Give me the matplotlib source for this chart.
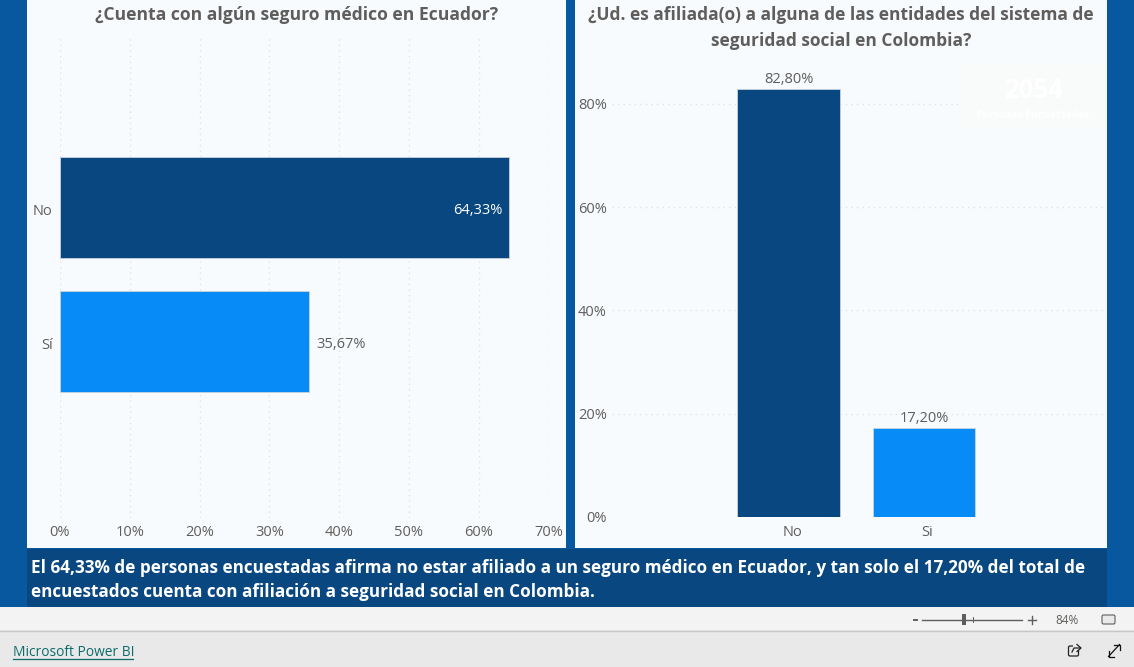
#!/usr/bin/env python3

import matplotlib
matplotlib.use('Agg')
import matplotlib.pyplot as plt
from matplotlib.patches import Rectangle, FancyBboxPatch
from matplotlib.transforms import ScaledTranslation

W = 1134
H = 667

ecuador_cats = ['No', 'Sí']
ecuador_vals = [64.33, 35.67]
ecuador_labels = ['64,33%', '35,67%']
ecuador_ticks = [0, 10, 20, 30, 40, 50, 60, 70]

colombia_cats = ['No', 'Si']
colombia_vals = [82.80, 17.20]
colombia_labels = ['82,80%', '17,20%']
colombia_ticks = [0, 20, 40, 60, 80]

bar_colors = ['#094780', '#078bf7']
grey = '#605e5c'
panel = '#f7fbfe'

plt.rcParams['font.family'] = ['Open Sans', 'DejaVu Sans']


def axes_px(fig, x0, y0, x1, y1):
    # pixel box, y measured from the top of the image
    return fig.add_axes([x0 / W, 1 - y1 / H, (x1 - x0) / W, (y1 - y0) / H])


def box(bg, x0, y0, x1, y1, color, **kw):
    bg.add_patch(Rectangle((x0, y0), x1 - x0, y1 - y0, facecolor=color, edgecolor='none', **kw))


def nudge(labels, fig, dx, dy):
    # move tick labels by a few pixels
    off = ScaledTranslation(dx / 100, dy / 100, fig.dpi_scale_trans)
    for lbl in labels:
        lbl.set_transform(lbl.get_transform() + off)


fig = plt.figure(figsize=(W / 100, H / 100), dpi=100)

# page background, panels and browser footer
bg = fig.add_axes([0, 0, 1, 1])
bg.set_xlim(0, W)
bg.set_ylim(H, 0)
bg.axis('off')
box(bg, 0, 0, W, 607, '#08589f')
box(bg, 27, 0, 566, 548, panel)
box(bg, 575, 0, 1107, 548, panel)
box(bg, 27, 549, 1107, 607, '#094780')
box(bg, 0, 607, W, 630, '#f3f3f3')
box(bg, 0, 630, W, 667, '#e9e9e9')
bg.plot([0, W], [630.5, 630.5], color='#c8c8c8', lw=1)

bg.text(297, 15, '¿Cuenta con algún seguro médico en Ecuador?', color=grey, fontsize=12.6,
        fontweight='bold', ha='center', va='center')
bg.text(841, 15, '¿Ud. es afiliada(o) a alguna de las entidades del sistema de', color=grey,
        fontsize=12.5, fontweight='bold', ha='center', va='center')
bg.text(841, 41, 'seguridad social en Colombia?', color=grey, fontsize=12.5,
        fontweight='bold', ha='center', va='center')
bg.text(31, 568, 'El 64,33% de personas encuestadas afirma no estar afiliado a un seguro médico en '
        'Ecuador, y tan solo el 17,20% del total de', color='white', fontsize=12.3,
        fontweight='bold', ha='left', va='center')
bg.text(31, 592, 'encuestados cuenta con afiliación a seguridad social en Colombia.', color='white',
        fontsize=12.3, fontweight='bold', ha='left', va='center')

# left chart
ax = axes_px(fig, 60, 37, 548.5, 518)
ax.patch.set_alpha(0)
ax.barh(ecuador_cats, ecuador_vals, height=0.754, color=bar_colors, edgecolor='#c9d3dc', linewidth=0.6)
ax.set_xlim(0, 70)
ax.set_ylim(2.317, -1.272)
ax.set_xticks(ecuador_ticks)
ax.set_xticklabels([f'{t}%' for t in ecuador_ticks])
ax.grid(axis='x', color='#e1e3e5', linestyle=(0, (1, 3)), linewidth=1)
ax.set_axisbelow(True)
ax.tick_params(length=0, labelsize=10.5, labelcolor=grey)
ax.tick_params(axis='x', pad=5.3)
ax.tick_params(axis='y', pad=5.2)
nudge(ax.get_yticklabels(), fig, 0, -2)
for s in ax.spines.values():
    s.set_visible(False)
ax.text(ecuador_vals[0] - 0.9, 0.02, ecuador_labels[0], color='white', fontsize=10.5, ha='right', va='center')
ax.text(ecuador_vals[1] + 1.0, 1.02, ecuador_labels[1], color=grey, fontsize=10.5, ha='left', va='center')

# right chart
ax2 = axes_px(fig, 612, 60, 1104, 517)
ax2.patch.set_alpha(0)
ax2.bar(colombia_cats, colombia_vals, width=0.757, color=bar_colors, edgecolor='#c9d3dc', linewidth=0.6)
ax2.set_xlim(-1.303, 2.328)
ax2.set_ylim(0, 88.5)
ax2.set_yticks(colombia_ticks)
ax2.set_yticklabels([f'{t}%' for t in colombia_ticks])
ax2.grid(axis='y', color='#e1e3e5', linestyle=(0, (1, 3)), linewidth=1)
ax2.set_axisbelow(True)
ax2.tick_params(length=0, labelsize=10.5, labelcolor=grey)
ax2.tick_params(axis='x', pad=5.7)
ax2.tick_params(axis='y', pad=3.6)
nudge(ax2.get_xticklabels(), fig, 3.5, 0)
for s in ax2.spines.values():
    s.set_visible(False)
for i, v in enumerate(colombia_vals):
    ax2.text(i, v + 0.45, colombia_labels[i], color=grey, fontsize=10.5, ha='center', va='bottom')

# faint card over the right chart
top = fig.add_axes([0, 0, 1, 1])
top.set_xlim(0, W)
top.set_ylim(H, 0)
top.axis('off')
top.patch.set_alpha(0)
box(top, 961, 63, 1107, 127, '#fafafa', alpha=0.9)
top.text(1033, 91, '2054', color='white', fontsize=18.5, fontweight='bold', ha='center', va='center')
top.text(1033, 116, 'Personas Encuestadas', color='white', fontsize=7.4, fontweight='bold', ha='center', va='center')

# footer bits
top.text(13, 653, 'Microsoft Power BI', color='#0f6b6b', fontsize=9.9, ha='left', va='center')
top.plot([13, 133], [659, 659], color='#0f6b6b', lw=0.9)
top.text(1067, 620, '84%', color=grey, fontsize=8.5, ha='center', va='center')
top.plot([913.5, 917], [619.5, 619.5], color=grey, lw=1.4)
top.plot([1028, 1036], [619.5, 619.5], color=grey, lw=1)
top.plot([1032, 1032], [615.5, 623.5], color=grey, lw=1)
top.plot([922, 1022], [619.5, 619.5], color=grey, lw=1)
top.plot([972.5, 972.5], [617, 622], color=grey, lw=0.7)
top.add_patch(Rectangle((962, 614), 4, 11, facecolor=grey, edgecolor='none'))
# fit to page icon
top.add_patch(FancyBboxPatch((1102, 615), 13, 9, boxstyle='round,pad=0,rounding_size=1.5',
                             facecolor='#e9e9e9', edgecolor=grey, lw=0.8))
# share icon
top.add_patch(FancyBboxPatch((1068.5, 646), 10, 10, boxstyle='round,pad=0,rounding_size=1.5',
                             facecolor='none', edgecolor='#222222', lw=0.9))
top.add_patch(Rectangle((1073, 643), 9, 7, facecolor='#e9e9e9', edgecolor='none'))
top.plot([1072, 1074, 1080], [652, 648, 648], color='#222222', lw=0.9)
top.plot([1077, 1081, 1077], [644.5, 648, 651.5], color='#222222', lw=0.9)
# expand icon
top.plot([1108.5, 1119.5], [656.5, 644.5], color='#111111', lw=0.9)
top.plot([1114, 1119.5, 1119.5], [644.5, 644.5, 650], color='#111111', lw=0.9)
top.plot([1108.5, 1108.5, 1114], [651, 656.5, 656.5], color='#111111', lw=0.9)

plt.savefig('out.png', dpi=100)
